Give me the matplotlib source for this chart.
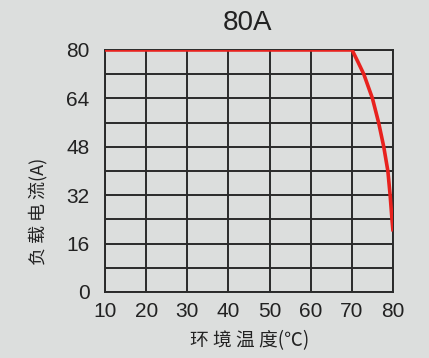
import matplotlib
matplotlib.use("Agg")
import matplotlib.pyplot as plt
import numpy as np

temps = [10, 70.05, 71.5, 72.9, 75.0, 76.5, 77.75, 78.75, 79.3, 79.75, 80.0]
current = [80, 80, 76, 72, 64, 56, 48, 40, 32, 24, 20]
x_ticks = [10, 20, 30, 40, 50, 60, 70, 80]
y_ticks = [0, 16, 32, 48, 64, 80]
y_grid = [0, 8, 16, 24, 32, 40, 48, 56, 64, 72, 80]

bg = "#dcdedd"
fig = plt.figure(figsize=(4.29, 3.58), dpi=100, facecolor=bg)
ax = fig.add_axes([0.2448, 0.1844, 0.6713, 0.6760], facecolor=bg)

ax.set_xlim(10, 80)
ax.set_ylim(0, 80)
for x in x_ticks:
    ax.axvline(x, color="#2a2a2a", lw=1.4, zorder=1)
for y in y_grid:
    ax.axhline(y, color="#2a2a2a", lw=1.4, zorder=1)
for s in ax.spines.values():
    s.set_color("#2a2a2a")
    s.set_linewidth(1.4)

ax.plot(temps, current, color="#e8221e", lw=2.6, zorder=3,
        solid_capstyle="butt", solid_joinstyle="round")

ax.set_xticks(x_ticks)
ax.set_yticks(y_ticks)
ax.tick_params(length=0, labelsize=15, colors="#222222")
ax.tick_params(axis="y", pad=11)
ax.tick_params(axis="x", pad=7)
for lab in ax.get_xticklabels() + ax.get_yticklabels():
    lab.set_family(["Liberation Sans", "DejaVu Sans"])

fig.text(0.578, 0.935, "80A", ha="center", va="center", fontsize=20,
         family=["Liberation Sans", "DejaVu Sans"], color="#222222")
fig.text(0.583, 0.048, "环 境 温 度(℃)", ha="center", va="center", fontsize=13.5,
         family=["Noto Sans CJK SC", "DejaVu Sans"], color="#222222")
fig.text(0.088, 0.41, "负 载 电 流(A)", ha="center", va="center", fontsize=13,
         rotation=90, family=["Noto Sans CJK SC", "DejaVu Sans"], color="#222222")

fig.savefig("out.png", dpi=100, facecolor=bg)
